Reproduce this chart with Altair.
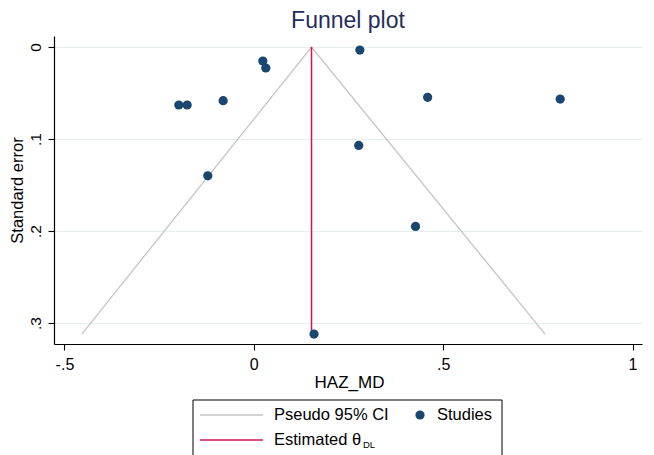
import altair as alt
import pandas as pd

# Study data
haz_md = [0.280, 0.0238, 0.0317, -0.198, -0.176, -0.081, 0.459, 0.809, 0.277, -0.1215, 0.427, 0.159]
std_err = [0.0033, 0.0152, 0.0228, 0.063, 0.063, 0.0583, 0.0547, 0.0565, 0.107, 0.140, 0.195, 0.312]

# Pooled estimate and pseudo 95% CI funnel (endpoints)
theta_dl = [0.1524]
theta_se = [0.0]
theta_se_end = [0.312]
funnel_x = [-0.454, 0.1524, 0.769]
funnel_se = [0.312, 0.0, 0.312]
funnel_order = [0, 1, 2]

x_ticks = [-0.5, 0, 0.5, 1]
y_ticks = [0, 0.1, 0.2, 0.3]

FONT = "Liberation Sans"
NAVY = "#1a476f"
RED = "#d41159"
GREY = "#c4c4c4"

studies = pd.DataFrame({"HAZ_MD": haz_md, "se": std_err})
funnel = pd.DataFrame({"x": funnel_x, "se": funnel_se, "o": funnel_order})
est = pd.DataFrame({"x": theta_dl, "se": theta_se, "se2": theta_se_end})

xscale = alt.Scale(domain=[-0.5276, 1.025], nice=False, zero=False)
yscale = alt.Scale(domain=[-0.012, 0.3228], nice=False, zero=False, reverse=True)

LBL = "datum.value == 0 ? '0' : replace(replace(format(datum.value, '~g'), '0.', '.'), '\u2212', '-')"

xaxis = alt.Axis(values=x_ticks, labelExpr=LBL,
                 grid=False, tickSize=6, labelPadding=6, labelFontSize=16, labelFont=FONT,
                 labelColor="black", domainColor="black", tickColor="black",
                 domainWidth=1.2, tickWidth=1.1, title="HAZ_MD", titleFont=FONT,
                 titleFontSize=17, titleFontWeight="normal", titleColor="black",
                 titleX=295, titleY=38, titleBaseline="middle", titleAlign="center",
                 labelFlush=False)
yaxis = alt.Axis(values=y_ticks, labelExpr=LBL,
                 grid=True, gridColor="#e7eef0", gridWidth=1.1, tickSize=6, labelPadding=8,
                 labelAngle=270, labelAlign="center", labelBaseline="alphabetic",
                 labelFontSize=15.5, labelFont=FONT, labelColor="black",
                 domainColor="black", tickColor="black", domainWidth=1.2, tickWidth=1.1,
                 title="Standard error", titleFont=FONT, titleFontSize=16.5,
                 titleFontWeight="normal", titleColor="black", titleAngle=270,
                 titleX=-37, titleY=154, titleAlign="center", titleBaseline="middle",
                 labelFlush=False)

funnel_layer = alt.Chart(funnel).mark_line(color=GREY, strokeWidth=1.3).encode(
    x=alt.X("x:Q", scale=xscale, axis=xaxis),
    y=alt.Y("se:Q", scale=yscale, axis=yaxis),
    order="o:O",
)
est_layer = alt.Chart(est).mark_rule(color=RED, strokeWidth=1.5).encode(
    x=alt.X("x:Q", scale=xscale),
    y=alt.Y("se:Q", scale=yscale),
    y2="se2:Q",
)
points = alt.Chart(studies).mark_circle(size=85, color=NAVY, opacity=1).encode(
    x=alt.X("HAZ_MD:Q", scale=xscale),
    y=alt.Y("se:Q", scale=yscale),
)

# Manual legend (Stata-style box below the plot)
one = pd.DataFrame({"k": [0]})
box = alt.Chart(one).mark_rect(fill="white", stroke="black", strokeWidth=1).encode(
    x=alt.value(139), x2=alt.value(448), y=alt.value(364), y2=alt.value(440))
leg_ci = alt.Chart(one).mark_rule(color=GREY, strokeWidth=1.5).encode(
    x=alt.value(146), x2=alt.value(209), y=alt.value(379))
leg_est = alt.Chart(one).mark_rule(color=RED, strokeWidth=1.5).encode(
    x=alt.value(146), x2=alt.value(209), y=alt.value(404))
leg_dot = alt.Chart(one).mark_circle(size=85, color=NAVY, opacity=1).encode(
    x=alt.value(366), y=alt.value(379))
def txt(s, x, y, size=16.5):
    return alt.Chart(one).mark_text(text=s, align="left", baseline="middle", font=FONT,
                                    fontSize=size, color="black").encode(
        x=alt.value(x), y=alt.value(y))
leg_t1 = txt("Pseudo 95% CI", 220, 379)
leg_t2 = txt("Studies", 383, 379)
leg_t3 = txt("Estimated θ", 220, 404)
leg_t4 = txt("DL", 309, 409, 9.5)

chart = alt.layer(funnel_layer, est_layer, points, box, leg_ci, leg_est, leg_dot,
                  leg_t1, leg_t2, leg_t3, leg_t4).properties(
    width=588, height=308,
    title=alt.TitleParams("Funnel plot", font=FONT, fontSize=23, fontWeight="normal",
                          color="#1f2f5c", anchor="middle", offset=3),
    autosize=alt.AutoSizeParams(type="none"),
    padding={"left": 46, "top": 28, "right": 2, "bottom": 111},
).configure_view(stroke=None)

chart.save("out.html", embed_options={"renderer": "svg", "actions": False})
